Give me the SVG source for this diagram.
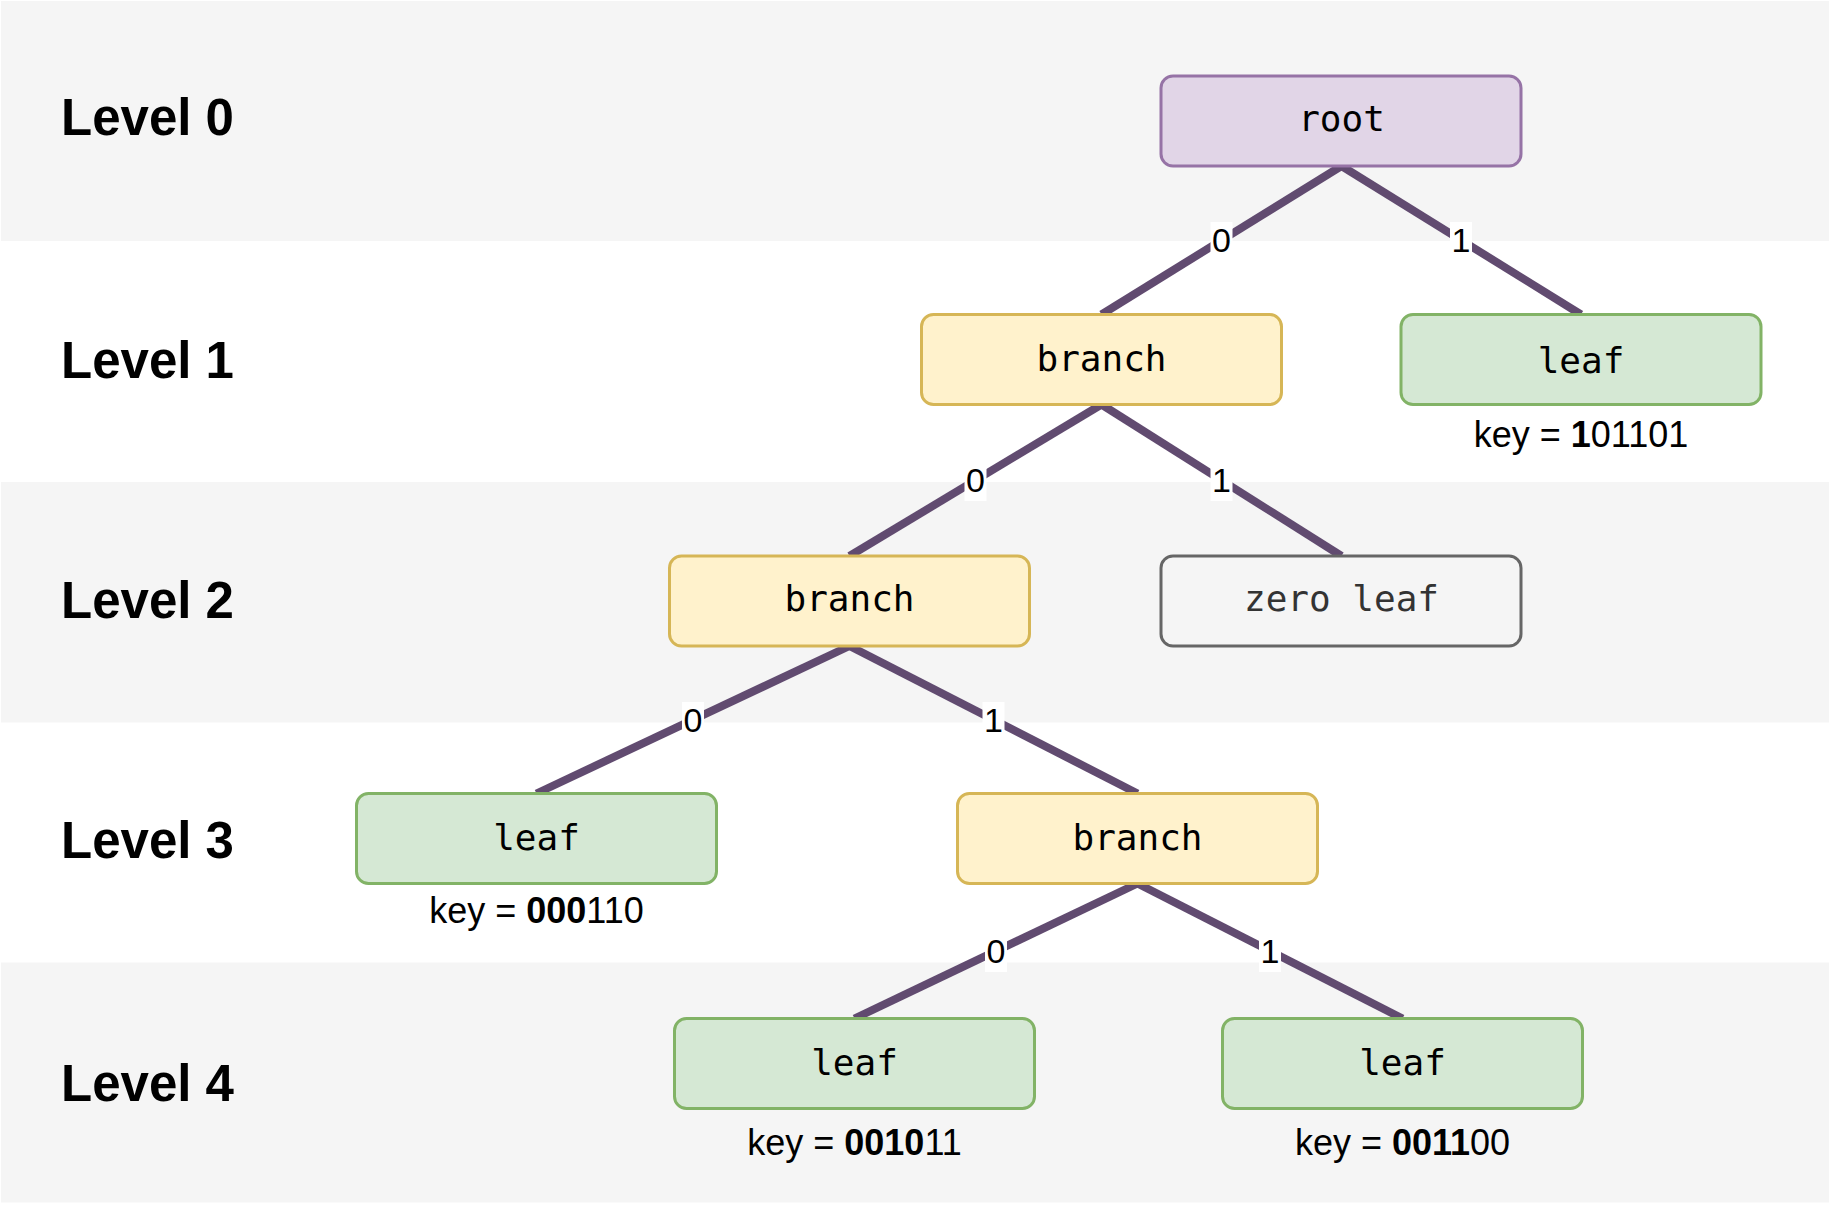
<svg xmlns="http://www.w3.org/2000/svg" width="1829" height="1213" viewBox="0 0 1829 1213">
<style>
.band{fill:#f5f5f5}
.lvl{font-family:"Liberation Sans",Arial,sans-serif;font-weight:bold;font-size:51px;fill:#000}
.node rect{stroke-width:3}
.root rect{fill:#e1d5e7;stroke:#9673a6}
.branch rect{fill:#fff2cc;stroke:#d6b656}
.leaf rect{fill:#d5e8d4;stroke:#82b366}
.zero rect{fill:#f5f5f5;stroke:#666666}
.nt{font-family:"DejaVu Sans Mono",monospace;font-size:36px;text-anchor:middle;fill:#000}
.zero .nt{fill:#333333}
.key{font-family:"Liberation Sans",Arial,sans-serif;font-size:36px;text-anchor:middle;fill:#000}
.key tspan.b{font-weight:bold}
.edge{stroke:#614b70;stroke-width:8;fill:none}
.lbg{fill:#ffffff}
.lt{font-family:"Liberation Sans",Arial,sans-serif;font-size:34px;text-anchor:middle;fill:#000}
</style>
<rect width="1829" height="1213" fill="#ffffff"/>
<g id="bands">
<rect class="band" x="1" y="1" width="1828" height="240"/>
<rect class="band" x="1" y="482" width="1828" height="240.5"/>
<rect class="band" x="1" y="962.5" width="1828" height="240"/>
</g>
<g id="levels">
<text class="lvl" x="61" y="135">Level 0</text>
<text class="lvl" x="61" y="378">Level 1</text>
<text class="lvl" x="61" y="618">Level 2</text>
<text class="lvl" x="61" y="858">Level 3</text>
<text class="lvl" x="61" y="1101">Level 4</text>
</g>
<g id="connectors">
<line class="edge" x1="1341.5" y1="166" x2="1101.5" y2="314.5"/>
<line class="edge" x1="1341.5" y1="166" x2="1581" y2="314.5"/>
<line class="edge" x1="1101.5" y1="404.5" x2="849.5" y2="556"/>
<line class="edge" x1="1101.5" y1="404.5" x2="1341.5" y2="556"/>
<line class="edge" x1="849.5" y1="646" x2="536.5" y2="793.5"/>
<line class="edge" x1="849.5" y1="646" x2="1137.5" y2="793.5"/>
<line class="edge" x1="1137.5" y1="883.5" x2="854.5" y2="1018.5"/>
<line class="edge" x1="1137.5" y1="883.5" x2="1402.5" y2="1018.5"/>
<rect class="lbg" x="1210.5" y="222" width="22" height="39"/><text class="lt" x="1221.5" y="252">0</text>
<rect class="lbg" x="1450" y="222" width="22" height="39"/><text class="lt" x="1461" y="252">1</text>
<rect class="lbg" x="964.5" y="462" width="22" height="39"/><text class="lt" x="975.5" y="492">0</text>
<rect class="lbg" x="1210.5" y="462" width="22" height="39"/><text class="lt" x="1221.5" y="492">1</text>
<rect class="lbg" x="682" y="702" width="22" height="39"/><text class="lt" x="693" y="732">0</text>
<rect class="lbg" x="982.5" y="702" width="22" height="39"/><text class="lt" x="993.5" y="732">1</text>
<rect class="lbg" x="985" y="933" width="22" height="39"/><text class="lt" x="996" y="963">0</text>
<rect class="lbg" x="1259" y="933" width="22" height="39"/><text class="lt" x="1270" y="963">1</text>
</g>
<g id="root" class="node root">
<rect x="1161" y="76" width="360" height="90" rx="12"/>
<text class="nt" x="1341.5" y="131">root</text>
</g>
<g id="branch1" class="node branch">
<rect x="921.5" y="314.5" width="360" height="90" rx="12"/>
<text class="nt" x="1101.5" y="371">branch</text>
</g>
<g id="leaf1" class="node leaf">
<rect x="1401" y="314.5" width="360" height="90" rx="12"/>
<text class="nt" x="1581" y="373">leaf</text>
<text class="key" x="1581" y="447">key = <tspan class="b">1</tspan>01101</text>
</g>
<g id="branch2" class="node branch">
<rect x="669.5" y="556" width="360" height="90" rx="12"/>
<text class="nt" x="849.5" y="611">branch</text>
</g>
<g id="zeroleaf" class="node zero">
<rect x="1161" y="556" width="360" height="90" rx="12"/>
<text class="nt" x="1341.5" y="611">zero leaf</text>
</g>
<g id="leaf3" class="node leaf">
<rect x="356.5" y="793.5" width="360" height="90" rx="12"/>
<text class="nt" x="536.5" y="850">leaf</text>
<text class="key" x="536.5" y="923">key = <tspan class="b">000</tspan>110</text>
</g>
<g id="branch3" class="node branch">
<rect x="957.5" y="793.5" width="360" height="90" rx="12"/>
<text class="nt" x="1137.5" y="850">branch</text>
</g>
<g id="leaf4a" class="node leaf">
<rect x="674.5" y="1018.5" width="360" height="90" rx="12"/>
<text class="nt" x="854.5" y="1075">leaf</text>
<text class="key" x="854.5" y="1155">key = <tspan class="b">0010</tspan>11</text>
</g>
<g id="leaf4b" class="node leaf">
<rect x="1222.5" y="1018.5" width="360" height="90" rx="12"/>
<text class="nt" x="1402.5" y="1075">leaf</text>
<text class="key" x="1402.5" y="1155">key = <tspan class="b">0011</tspan>00</text>
</g>
</svg>
